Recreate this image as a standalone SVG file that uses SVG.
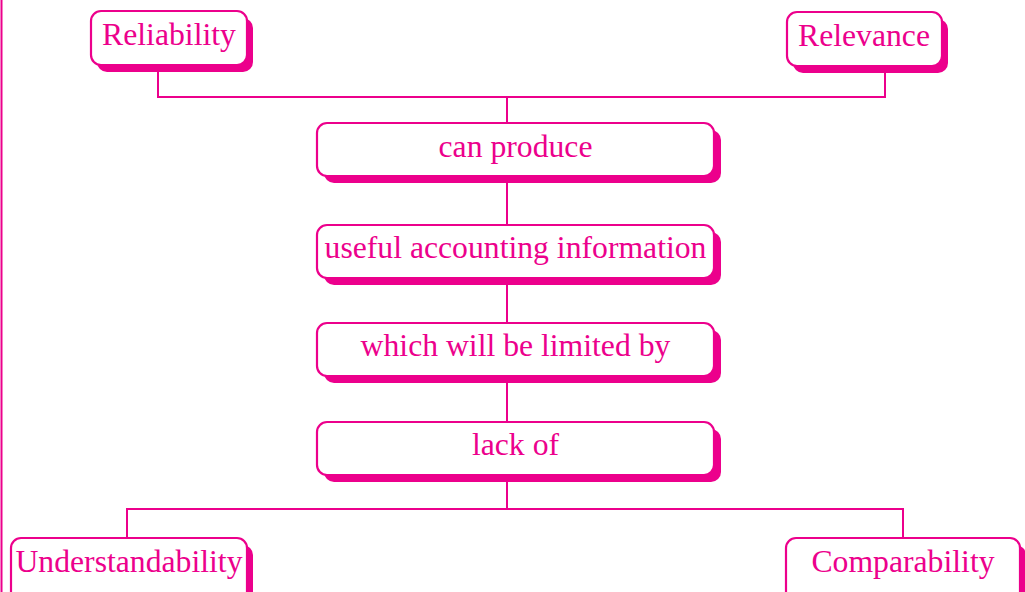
<svg xmlns="http://www.w3.org/2000/svg" width="1025" height="592" viewBox="0 0 1025 592">
<style>
.ln{stroke:#EC008C;stroke-width:2;fill:none}
.sh{fill:#EC008C}
.bx{fill:#fff;stroke:#EC008C;stroke-width:2.2}
.t{font-family:"Liberation Serif","Times New Roman",serif;font-size:31.7px;fill:#EC008C;text-anchor:middle}
</style>
<rect x="0" y="0" width="1025" height="592" fill="#fff"/>
<g id="connectors">
<line class="ln" x1="1.5" y1="0" x2="1.5" y2="592"/>
<polyline class="ln" points="158,65 158,97 885,97 885,65"/>
<line class="ln" x1="507" y1="97" x2="507" y2="123"/>
<line class="ln" x1="507" y1="176" x2="507" y2="225"/>
<line class="ln" x1="507" y1="278" x2="507" y2="323"/>
<line class="ln" x1="507" y1="376" x2="507" y2="422"/>
<line class="ln" x1="507" y1="475" x2="507" y2="509"/>
<polyline class="ln" points="127,538 127,509 903,509 903,538"/>
</g>
<g id="reliability">
<rect class="sh" x="97" y="18" width="156" height="54" rx="10"/>
<rect class="bx" x="91" y="11" width="156" height="54" rx="10"/>
<text class="t" x="169" y="45">Reliability</text>
</g>
<g id="relevance">
<rect class="sh" x="793" y="19" width="155" height="54" rx="10"/>
<rect class="bx" x="787" y="12" width="155" height="54" rx="10"/>
<text class="t" x="864" y="46">Relevance</text>
</g>
<g id="can-produce">
<rect class="sh" x="324" y="130" width="397" height="53" rx="10"/>
<rect class="bx" x="317" y="123" width="397" height="53" rx="10"/>
<text class="t" x="515.5" y="157">can produce</text>
</g>
<g id="useful-info">
<rect class="sh" x="324" y="232" width="397" height="53" rx="10"/>
<rect class="bx" x="317" y="225" width="397" height="53" rx="10"/>
<text class="t" x="515.5" y="258">useful accounting information</text>
</g>
<g id="limited-by">
<rect class="sh" x="324" y="330" width="397" height="53" rx="10"/>
<rect class="bx" x="317" y="323" width="397" height="53" rx="10"/>
<text class="t" x="515.5" y="356">which will be limited by</text>
</g>
<g id="lack-of">
<rect class="sh" x="324" y="429" width="397" height="53" rx="10"/>
<rect class="bx" x="317" y="422" width="397" height="53" rx="10"/>
<text class="t" x="515.5" y="455">lack of</text>
</g>
<g id="understandability">
<rect class="sh" x="17" y="545" width="236" height="70" rx="10"/>
<rect class="bx" x="11" y="538" width="236" height="70" rx="10"/>
<text class="t" x="129" y="572">Understandability</text>
</g>
<g id="comparability">
<rect class="sh" x="792" y="545" width="234" height="70" rx="10"/>
<rect class="bx" x="786" y="538" width="234" height="70" rx="10"/>
<text class="t" x="903" y="572">Comparability</text>
</g>
</svg>
